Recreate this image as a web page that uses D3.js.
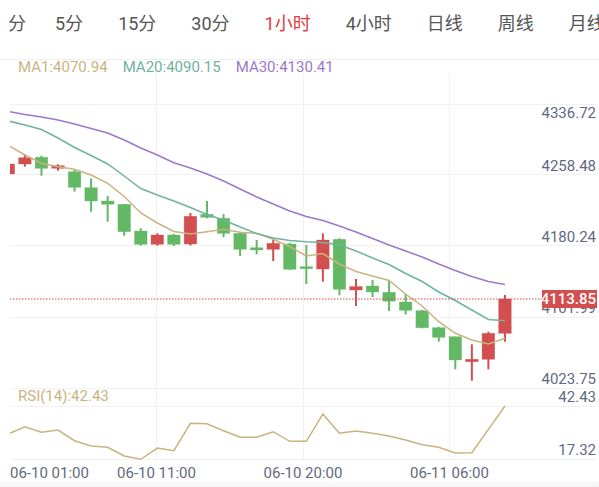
<!DOCTYPE html>
<html>
<head>
<meta charset="utf-8">
<script src="https://cdn.jsdelivr.net/npm/d3@7"></script>
<style>
body { margin: 0; background: #fff; }
svg { display: block; }
</style>
</head>
<body>
<div id="chart"></div>
<script>
// period tabs
var tabs = ["1分", "5分", "15分", "30分", "1小时", "4小时", "日线", "周线", "月线"];
var activeTab = "1小时";

// hourly candles, 06-10 01:00 .. 06-11 09:00
var opens  = [4259.58, 4270.60, 4277.98, 4265.86, 4262.11, 4244.48, 4229.83, 4226.19, 4196.77, 4182.11,
              4192.36, 4182.44, 4215.17, 4210.76, 4194.23, 4178.36, 4176.60, 4182.44, 4157.42, 4154.89,
              4187.62, 4131.75, 4136.16, 4129.21, 4118.52, 4108.94, 4090.20, 4080.28, 4052.73, 4055.38, 4084.03];
var highs  = [4271.70, 4281.29, 4279.75, 4270.27, 4263.99, 4254.84, 4235.34, 4226.50, 4199.74, 4194.23,
              4193.46, 4216.60, 4229.83, 4215.50, 4194.89, 4186.85, 4186.85, 4183.87, 4181.34, 4194.23,
              4188.72, 4143.87, 4142.77, 4141.89, 4127.34, 4109.71, 4091.30, 4080.28, 4071.91, 4085.79, 4126.24];
var lows   = [4258.48, 4267.62, 4257.71, 4263.22, 4240.07, 4218.03, 4207.01, 4191.59, 4180.57, 4180.57,
              4180.24, 4180.79, 4210.76, 4189.82, 4169.22, 4171.09, 4163.71, 4153.79, 4138.36, 4140.89,
              4125.91, 4114.12, 4124.03, 4108.61, 4104.75, 4089.54, 4074.78, 4044.36, 4031.80, 4044.36, 4074.78];
var closes = [4270.60, 4277.54, 4265.86, 4268.73, 4244.92, 4229.83, 4226.19, 4195.99, 4182.11, 4192.36,
              4182.11, 4212.97, 4211.86, 4194.23, 4176.60, 4175.83, 4183.21, 4154.56, 4155.22, 4186.85,
              4132.52, 4135.49, 4129.54, 4119.41, 4109.38, 4090.20, 4079.62, 4054.61, 4055.38, 4084.03, 4121.83];

// moving averages as drawn
var ma1  = [4290.99, 4280.52, 4271.37, 4267.63, 4264.76, 4258.48, 4249.33, 4234.79, 4216.60, 4205.58,
            4196.22, 4193.46, 4196.00, 4198.64, 4195.33, 4194.23, 4187.62, 4179.47, 4169.22, 4171.97,
            4160.40, 4152.14, 4147.18, 4142.22, 4127.34, 4114.12, 4096.82, 4084.03, 4076.65, 4072.24, 4078.52];
var ma20 = [4317.99, 4313.58, 4308.62, 4299.25, 4288.78, 4279.97, 4270.60, 4257.38, 4243.60, 4236.44,
            4229.83, 4222.66, 4214.95, 4208.89, 4201.18, 4194.01, 4189.05, 4186.30, 4184.98, 4184.09,
            4181.34, 4174.73, 4167.01, 4159.85, 4149.93, 4141.12, 4129.55, 4120.18, 4109.71, 4099.24, 4097.92];
var ma30 = [4328.46, 4325.15, 4322.40, 4319.09, 4314.68, 4309.72, 4304.76, 4297.05, 4288.23, 4280.52,
            4272.03, 4266.19, 4259.58, 4251.87, 4243.05, 4234.24, 4226.52, 4218.81, 4212.75, 4208.34,
            4202.28, 4195.67, 4188.50, 4181.34, 4174.73, 4168.12, 4160.40, 4153.24, 4146.63, 4141.12, 4137.81];

var rsi = [29.29, 32.68, 30.04, 31.12, 26.08, 23.59, 22.97, 18.87, 17.32, 22.64,
           21.37, 34.28, 34.09, 30.79, 27.68, 27.68, 30.32, 25.80, 25.80, 38.66,
           29.57, 30.65, 29.57, 28.30, 26.41, 24.20, 22.97, 20.29, 20.43, 31.41, 42.43];

var legendNames  = ["MA1:4070.94", "MA20:4090.15", "MA30:4130.41"];
var rsiLegend = "RSI(14):42.43";
var lastPrice = "4113.85";
var priceTicks = [4336.72, 4258.48, 4180.24, 4101.99, 4023.75];
var rsiTicks = [42.43, 17.32];
var timeLabels = ["06-10 01:00", "06-10 11:00", "06-10 20:00", "06-11 06:00"];

var width = 599, height = 487;
var left = 10, right = 596;
var numFont = "Roboto, 'Noto Sans CJK SC', sans-serif";
var green = "#63b866", red = "#d34e4e";
var maColors = ["#c9b47f", "#6fb2a1", "#9b78cb"];
var axisColor = "#5f6a80";
var gridColor = "#f1f1f1";

var svg = d3.select("#chart").append("svg")
    .attr("width", width).attr("height", height);

// ---- tabs (scrolled bar, first one partly hidden) ----
svg.append("clipPath").attr("id", "tabclip")
    .append("rect").attr("x", 9).attr("y", 0).attr("width", width).attr("height", 50);
var tabG = svg.append("g").attr("clip-path", "url(#tabclip)")
    .attr("font-family", numFont).attr("font-size", 18);
var tx = 55;
tabs.forEach(function(name, i){
    var t = tabG.append("text")
        .attr("y", 23)
        .attr("dominant-baseline", "central")
        .attr("fill", name == activeTab ? "#dd3b3f" : "#555")
        .text(name);
    if (i == 0) {
        t.attr("x", tx - 29).attr("text-anchor", "end");
    } else {
        t.attr("x", tx);
        tx += t.node().getComputedTextLength() + 35;
    }
});
svg.append("line").attr("x1", 0).attr("x2", width).attr("y1", 59.5).attr("y2", 59.5)
    .attr("stroke", "#efefef");

// ---- scales ----
var x = d3.scaleLinear().domain([0.1, 35.5]).range([left, right]);
var y = d3.scaleLinear().domain([4023.75, 4336.72]).range([388, 104]);
var yr = d3.scaleLinear().domain([17.32, 42.43]).range([459.3, 406]);
var cols = d3.scaleLinear().domain([0, 4]).range([left, right]);

// ---- grid ----
var grid = svg.append("g").attr("stroke", gridColor).attr("shape-rendering", "crispEdges");
grid.selectAll(".v").data([1, 2, 3]).enter().append("line")
    .attr("x1", function(d){ return cols(d); }).attr("x2", function(d){ return cols(d); })
    .attr("y1", 73).attr("y2", yr(17.32));
grid.selectAll(".h").data(priceTicks).enter().append("line")
    .attr("x1", left).attr("x2", right)
    .attr("y1", function(d){ return y(d); }).attr("y2", function(d){ return y(d); });
grid.selectAll(".r").data(rsiTicks).enter().append("line")
    .attr("x1", left).attr("x2", right)
    .attr("y1", function(d){ return yr(d); }).attr("y2", function(d){ return yr(d); });

// faint shade at the very bottom
var grad = svg.append("linearGradient").attr("id", "shade").attr("x1", 0).attr("x2", 0).attr("y1", 0).attr("y2", 1);
grad.append("stop").attr("offset", 0).attr("stop-color", "#fbfbfb");
grad.append("stop").attr("offset", 1).attr("stop-color", "#f3f3f3");
svg.append("rect").attr("x", 0).attr("y", 481).attr("width", width).attr("height", 6).attr("fill", "url(#shade)");

// ---- legends ----
var lg = svg.append("g").attr("font-family", numFont).attr("font-size", 15);
var lx = 18;
legendNames.forEach(function(name, i){
    var t = lg.append("text").attr("x", lx).attr("y", 67)
        .attr("dominant-baseline", "central")
        .attr("fill", maColors[i]).text(name);
    lx += t.node().getComputedTextLength() + 15;
});
lg.append("text").attr("x", 18).attr("y", 396)
    .attr("dominant-baseline", "central")
    .attr("fill", maColors[0]).text(rsiLegend);

// ---- candles ----
svg.append("clipPath").attr("id", "plot")
    .append("rect").attr("x", left).attr("y", 73).attr("width", right - left).attr("height", 400);

var plot = svg.append("g").attr("clip-path", "url(#plot)");
var step = x(1) - x(0);
var bodyW = step * 0.76;
var idx = d3.range(opens.length);

var candle = plot.selectAll(".candle").data(idx).enter().append("g")
    .attr("fill", function(i){ return closes[i] >= opens[i] ? red : green; })
    .attr("stroke", function(i){ return closes[i] >= opens[i] ? red : green; });
candle.append("line")
    .attr("x1", function(i){ return x(i); }).attr("x2", function(i){ return x(i); })
    .attr("y1", function(i){ return y(highs[i]); })
    .attr("y2", function(i){ return y(lows[i]); })
    .attr("stroke-width", 2);
candle.append("rect")
    .attr("x", function(i){ return x(i) - bodyW / 2; })
    .attr("width", bodyW)
    .attr("y", function(i){ return y(Math.max(opens[i], closes[i])); })
    .attr("height", function(i){ return Math.max(2, Math.abs(y(opens[i]) - y(closes[i]))); })
    .attr("stroke-width", 0.6).attr("stroke-opacity", 0.5);

// ---- MA lines ----
[ma1, ma20, ma30].forEach(function(series, k){
    plot.append("path")
        .attr("d", d3.line().x(function(d, i){ return x(i); }).y(function(d){ return y(d); })(series))
        .attr("fill", "none").attr("stroke", maColors[k]).attr("stroke-width", 1.5);
});

// ---- RSI ----
plot.append("path")
    .attr("d", d3.line().x(function(d, i){ return x(i); }).y(function(d){ return yr(d); })(rsi))
    .attr("fill", "none").attr("stroke", maColors[0]).attr("stroke-width", 1.5);

// ---- axis labels ----
var ax = svg.append("g").attr("font-family", numFont).attr("font-size", 15).attr("fill", axisColor);
ax.selectAll(".p").data(priceTicks).enter().append("text")
    .attr("x", right).attr("text-anchor", "end").attr("dominant-baseline", "central")
    .attr("y", function(d, i){ return i == 0 ? y(d) + 9 : y(d) - 9; })
    .text(function(d){ return d3.format(".2f")(d); });
ax.selectAll(".r").data(rsiTicks).enter().append("text")
    .attr("x", right).attr("text-anchor", "end").attr("dominant-baseline", "central")
    .attr("y", function(d){ return yr(d) - 9.5; })
    .text(function(d){ return d3.format(".2f")(d); });
ax.selectAll(".t").data(timeLabels).enter().append("text")
    .attr("x", function(d, i){ return cols(i); })
    .attr("text-anchor", function(d, i){ return i == 0 ? "start" : "middle"; })
    .attr("y", 473).attr("dominant-baseline", "central")
    .text(function(d){ return d; });

// ---- last price line ----
var lastY = y(closes[closes.length - 1]);
svg.append("line").attr("x1", left).attr("x2", 542).attr("y1", lastY).attr("y2", lastY)
    .attr("stroke", "#d64545").attr("stroke-width", 1.2).attr("stroke-dasharray", "1.5,1.5");
svg.append("rect").attr("x", 542).attr("y", lastY - 9).attr("width", 55).attr("height", 18)
    .attr("fill", "#d34e4e");
svg.append("text").attr("x", right).attr("y", lastY)
    .attr("text-anchor", "end").attr("dominant-baseline", "central")
    .attr("font-family", numFont).attr("font-size", 15).attr("font-weight", 500)
    .attr("fill", "#fff").text(lastPrice);
</script>
</body>
</html>
